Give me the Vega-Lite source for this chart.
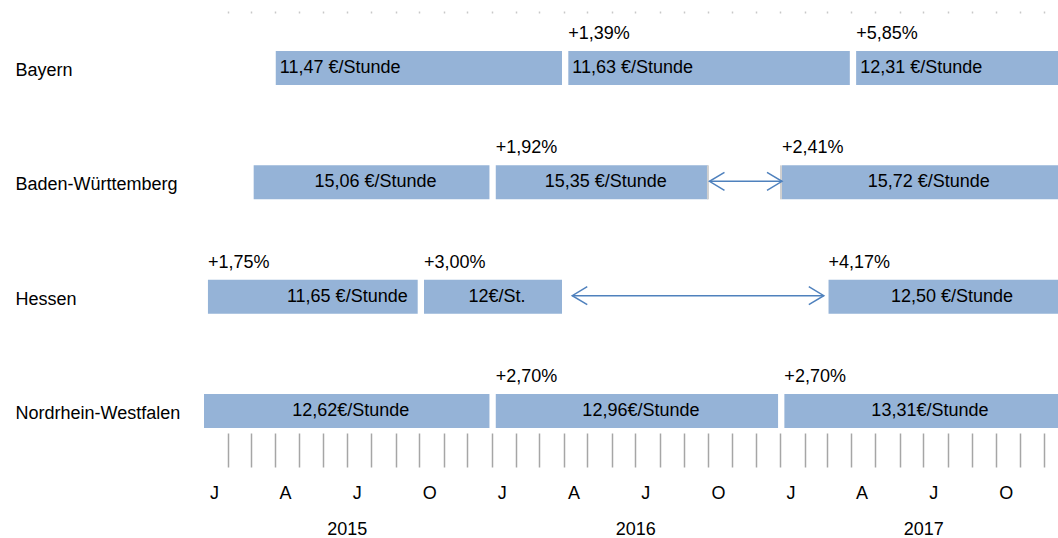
{
  "$schema": "https://vega.github.io/schema/vega-lite/v6.json",
  "autosize": {"type": "none"},
  "width": 854,
  "height": 418,
  "padding": {"left": 204, "top": 13, "right": 0, "bottom": 107},
  "background": "white",
  "config": {
    "view": {"stroke": null},
    "font": "Liberation Sans",
    "text": {"font": "Liberation Sans", "fontSize": 18, "color": "#000000"},
    "axis": {"labelFont": "Liberation Sans", "labelFontSize": 18, "labelColor": "#000000", "grid": false, "domain": false}
  },
  "datasets": {
    "bars": [
      {"state": "Bayern", "start": "2015-04-02", "end": "2016-03-30", "label": "11,47 €/Stunde", "pct": null},
      {"state": "Bayern", "start": "2016-04-07", "end": "2017-03-30", "label": "11,63 €/Stunde", "pct": "+1,39%"},
      {"state": "Bayern", "start": "2017-04-07", "end": "2017-12-31", "label": "12,31 €/Stunde", "pct": "+5,85%"},
      {"state": "Baden-Württemberg", "start": "2015-03-05", "end": "2015-12-29", "label": "15,06 €/Stunde", "pct": null},
      {"state": "Baden-Württemberg", "start": "2016-01-06", "end": "2016-10-01", "label": "15,35 €/Stunde", "pct": "+1,92%"},
      {"state": "Baden-Württemberg", "start": "2017-01-03", "end": "2017-12-31", "label": "15,72 €/Stunde", "pct": "+2,41%"},
      {"state": "Hessen", "start": "2015-01-06", "end": "2015-09-29", "label": "11,65 €/Stunde", "pct": "+1,75%"},
      {"state": "Hessen", "start": "2015-10-07", "end": "2016-03-30", "label": "12€/St.", "pct": "+3,00%"},
      {"state": "Hessen", "start": "2017-03-03", "end": "2017-12-31", "label": "12,50 €/Stunde", "pct": "+4,17%"},
      {"state": "Nordrhein-Westfalen", "start": "2015-01-01", "end": "2015-12-29", "label": "12,62€/Stunde", "pct": null},
      {"state": "Nordrhein-Westfalen", "start": "2016-01-06", "end": "2016-12-29", "label": "12,96€/Stunde", "pct": "+2,70%"},
      {"state": "Nordrhein-Westfalen", "start": "2017-01-06", "end": "2017-12-31", "label": "13,31€/Stunde", "pct": "+2,70%"}
    ],
    "arrows": [
      {"state": "Baden-Württemberg", "start": "2016-10-03", "end": "2017-01-03"},
      {"state": "Hessen", "start": "2016-04-12", "end": "2017-02-25"}
    ]
  },
  "encoding": {
    "y": {
      "field": "state",
      "type": "nominal",
      "sort": null,
      "scale": {
        "domain": ["Bayern", "Baden-Württemberg", "Hessen", "Nordrhein-Westfalen"],
        "paddingInner": 0.7025,
        "paddingOuter": 0.179,
        "align": 0.928
      },
      "axis": {
        "title": null,
        "labelAlign": "left",
        "labelBaseline": "middle",
        "labelPadding": 189,
        "ticks": false,
        "tickSize": 0,
        "labelOffset": 3,
        "labelLimit": 0,
        "domain": false
      }
    }
  },
  "layer": [
    {
      "data": {"name": "bars"},
      "mark": {"type": "bar", "color": "#95b3d7", "clip": true},
      "encoding": {
        "x": {
          "field": "start",
          "type": "temporal",
          "scale": {"domain": [{"year": 2015, "month": 1, "date": 1, "utc": true}, {"year": 2017, "month": 12, "date": 19, "utc": true}], "nice": false},
          "axis": {
            "orient": "bottom",
            "title": null,
            "labels": false,
            "ticks": true,
            "tickSize": 34,
            "tickWidth": 1.5,
            "tickColor": "#a6a6a6",
            "offset": 2,
            "domain": false,
            "grid": false,
            "values": [
              {"year": 2015, "month": 2, "date": 1, "utc": true}, {"year": 2015, "month": 3, "date": 1, "utc": true}, {"year": 2015, "month": 4, "date": 1, "utc": true}, {"year": 2015, "month": 5, "date": 1, "utc": true}, {"year": 2015, "month": 6, "date": 1, "utc": true}, {"year": 2015, "month": 7, "date": 1, "utc": true}, {"year": 2015, "month": 8, "date": 1, "utc": true}, {"year": 2015, "month": 9, "date": 1, "utc": true}, {"year": 2015, "month": 10, "date": 1, "utc": true}, {"year": 2015, "month": 11, "date": 1, "utc": true}, {"year": 2015, "month": 12, "date": 1, "utc": true},
              {"year": 2016, "month": 1, "date": 1, "utc": true}, {"year": 2016, "month": 2, "date": 1, "utc": true}, {"year": 2016, "month": 3, "date": 1, "utc": true}, {"year": 2016, "month": 4, "date": 1, "utc": true}, {"year": 2016, "month": 5, "date": 1, "utc": true}, {"year": 2016, "month": 6, "date": 1, "utc": true}, {"year": 2016, "month": 7, "date": 1, "utc": true}, {"year": 2016, "month": 8, "date": 1, "utc": true}, {"year": 2016, "month": 9, "date": 1, "utc": true}, {"year": 2016, "month": 10, "date": 1, "utc": true}, {"year": 2016, "month": 11, "date": 1, "utc": true}, {"year": 2016, "month": 12, "date": 1, "utc": true},
              {"year": 2017, "month": 1, "date": 1, "utc": true}, {"year": 2017, "month": 2, "date": 1, "utc": true}, {"year": 2017, "month": 3, "date": 1, "utc": true}, {"year": 2017, "month": 4, "date": 1, "utc": true}, {"year": 2017, "month": 5, "date": 1, "utc": true}, {"year": 2017, "month": 6, "date": 1, "utc": true}, {"year": 2017, "month": 7, "date": 1, "utc": true}, {"year": 2017, "month": 8, "date": 1, "utc": true}, {"year": 2017, "month": 9, "date": 1, "utc": true}, {"year": 2017, "month": 10, "date": 1, "utc": true}, {"year": 2017, "month": 11, "date": 1, "utc": true}, {"year": 2017, "month": 12, "date": 1, "utc": true}
            ]
          }
        },
        "x2": {"field": "end"}
      }
    },
    {
      "data": {"name": "arrows"},
      "transform": [{"filter": "datum.state === 'Baden-Württemberg'"}],
      "mark": {"type": "tick", "color": "#d0d0d0", "thickness": 2, "size": 34, "opacity": 1, "xOffset": -1.5},
      "encoding": {
        "x": {"field": "start", "type": "temporal", "scale": {"domain": [{"year": 2015, "month": 1, "date": 1, "utc": true}, {"year": 2017, "month": 12, "date": 19, "utc": true}], "nice": false}, "axis": null}
      }
    },
    {
      "data": {"name": "arrows"},
      "transform": [{"filter": "datum.state === 'Baden-Württemberg'"}],
      "mark": {"type": "tick", "color": "#d0d0d0", "thickness": 2, "size": 34, "opacity": 1, "xOffset": -1},
      "encoding": {
        "x": {"field": "end", "type": "temporal", "scale": {"domain": [{"year": 2015, "month": 1, "date": 1, "utc": true}, {"year": 2017, "month": 12, "date": 19, "utc": true}], "nice": false}, "axis": null}
      }
    },
    {
      "data": {"name": "arrows"},
      "mark": {"type": "rule", "color": "#4f81bd", "strokeWidth": 1.5, "yOffset": -1},
      "encoding": {
        "x": {
          "field": "start",
          "type": "temporal",
          "scale": {"domain": [{"year": 2015, "month": 1, "date": 1, "utc": true}, {"year": 2017, "month": 12, "date": 19, "utc": true}], "nice": false},
          "axis": {
            "orient": "top",
            "title": null,
            "labels": false,
            "ticks": true,
            "tickSize": 2,
            "tickWidth": 1.5,
            "tickColor": "#c8c8c8",
            "domain": false,
            "grid": false,
            "values": [
              {"year": 2015, "month": 2, "date": 1, "utc": true}, {"year": 2015, "month": 3, "date": 1, "utc": true}, {"year": 2015, "month": 4, "date": 1, "utc": true}, {"year": 2015, "month": 5, "date": 1, "utc": true}, {"year": 2015, "month": 6, "date": 1, "utc": true}, {"year": 2015, "month": 7, "date": 1, "utc": true}, {"year": 2015, "month": 8, "date": 1, "utc": true}, {"year": 2015, "month": 9, "date": 1, "utc": true}, {"year": 2015, "month": 10, "date": 1, "utc": true}, {"year": 2015, "month": 11, "date": 1, "utc": true}, {"year": 2015, "month": 12, "date": 1, "utc": true},
              {"year": 2016, "month": 1, "date": 1, "utc": true}, {"year": 2016, "month": 2, "date": 1, "utc": true}, {"year": 2016, "month": 3, "date": 1, "utc": true}, {"year": 2016, "month": 4, "date": 1, "utc": true}, {"year": 2016, "month": 5, "date": 1, "utc": true}, {"year": 2016, "month": 6, "date": 1, "utc": true}, {"year": 2016, "month": 7, "date": 1, "utc": true}, {"year": 2016, "month": 8, "date": 1, "utc": true}, {"year": 2016, "month": 9, "date": 1, "utc": true}, {"year": 2016, "month": 10, "date": 1, "utc": true}, {"year": 2016, "month": 11, "date": 1, "utc": true}, {"year": 2016, "month": 12, "date": 1, "utc": true},
              {"year": 2017, "month": 1, "date": 1, "utc": true}, {"year": 2017, "month": 2, "date": 1, "utc": true}, {"year": 2017, "month": 3, "date": 1, "utc": true}, {"year": 2017, "month": 4, "date": 1, "utc": true}, {"year": 2017, "month": 5, "date": 1, "utc": true}, {"year": 2017, "month": 6, "date": 1, "utc": true}, {"year": 2017, "month": 7, "date": 1, "utc": true}, {"year": 2017, "month": 8, "date": 1, "utc": true}, {"year": 2017, "month": 9, "date": 1, "utc": true}, {"year": 2017, "month": 10, "date": 1, "utc": true}, {"year": 2017, "month": 11, "date": 1, "utc": true}, {"year": 2017, "month": 12, "date": 1, "utc": true}
            ]
          }
        },
        "x2": {"field": "end"}
      }
    },
    {
      "data": {"name": "arrows"},
      "mark": {"type": "point", "shape": "M 1 -0.6 L 0 0 L 1 0.6", "filled": false, "color": "#4f81bd", "strokeWidth": 1.5, "size": 900, "opacity": 1, "yOffset": -1},
      "encoding": {
        "x": {"field": "start", "type": "temporal", "scale": {"domain": [{"year": 2015, "month": 1, "date": 1, "utc": true}, {"year": 2017, "month": 12, "date": 19, "utc": true}], "nice": false}, "axis": null}
      }
    },
    {
      "data": {"name": "arrows"},
      "mark": {"type": "point", "shape": "M -1 -0.6 L 0 0 L -1 0.6", "filled": false, "color": "#4f81bd", "strokeWidth": 1.5, "size": 900, "opacity": 1, "yOffset": -1},
      "encoding": {
        "x": {"field": "end", "type": "temporal", "scale": {"domain": [{"year": 2015, "month": 1, "date": 1, "utc": true}, {"year": 2017, "month": 12, "date": 19, "utc": true}], "nice": false}, "axis": null}
      }
    },
    {
      "data": {"name": "bars"},
      "transform": [{"filter": "datum.pct != null"}],
      "mark": {"type": "text", "align": "left", "baseline": "middle", "yOffset": -34},
      "encoding": {
        "x": {
          "field": "start",
          "type": "temporal",
          "scale": {"domain": [{"year": 2015, "month": 1, "date": 1, "utc": true}, {"year": 2017, "month": 12, "date": 19, "utc": true}], "nice": false},
          "axis": {
            "orient": "bottom",
            "title": null,
            "ticks": false,
            "tickSize": 0,
            "labelPadding": 53,
            "labelOffset": 10,
            "labelFlush": false,
            "labelOverlap": false,
            "labelAlign": "center",
            "labelBaseline": "top",
            "domain": false,
            "grid": false,
            "labelExpr": "slice(utcFormat(datum.value, '%b'), 0, 1)",
            "values": [
              {"year": 2015, "month": 1, "date": 1, "utc": true}, {"year": 2015, "month": 4, "date": 1, "utc": true}, {"year": 2015, "month": 7, "date": 1, "utc": true}, {"year": 2015, "month": 10, "date": 1, "utc": true},
              {"year": 2016, "month": 1, "date": 1, "utc": true}, {"year": 2016, "month": 4, "date": 1, "utc": true}, {"year": 2016, "month": 7, "date": 1, "utc": true}, {"year": 2016, "month": 10, "date": 1, "utc": true},
              {"year": 2017, "month": 1, "date": 1, "utc": true}, {"year": 2017, "month": 4, "date": 1, "utc": true}, {"year": 2017, "month": 7, "date": 1, "utc": true}, {"year": 2017, "month": 10, "date": 1, "utc": true}
            ]
          }
        },
        "text": {"field": "pct"}
      }
    },
    {
      "data": {"name": "bars"},
      "transform": [{"filter": "datum.state === 'Bayern'"}],
      "mark": {"type": "text", "align": "left", "baseline": "middle", "dx": 4},
      "encoding": {
        "x": {"field": "start", "type": "temporal", "scale": {"domain": [{"year": 2015, "month": 1, "date": 1, "utc": true}, {"year": 2017, "month": 12, "date": 19, "utc": true}], "nice": false}, "axis": null},
        "text": {"field": "label"}
      }
    },
    {
      "data": {"name": "bars"},
      "transform": [{"filter": "datum.state === 'Hessen' && datum.label === '11,65 €/Stunde'"}],
      "mark": {"type": "text", "align": "right", "baseline": "middle", "dx": -10},
      "encoding": {
        "x": {"field": "end", "type": "temporal", "scale": {"domain": [{"year": 2015, "month": 1, "date": 1, "utc": true}, {"year": 2017, "month": 12, "date": 19, "utc": true}], "nice": false}, "axis": null},
        "text": {"field": "label"}
      }
    },
    {
      "data": {"name": "bars", "format": {"parse": {"start": "date", "end": "date"}}},
      "transform": [
        {"filter": "datum.state !== 'Bayern' && datum.label !== '11,65 €/Stunde'"},
        {"fold": ["start", "end"], "as": ["edge", "date"]},
        {"aggregate": [{"op": "mean", "field": "date", "as": "mid"}], "groupby": ["state", "label"]}
      ],
      "mark": {"type": "text", "align": "center", "baseline": "middle", "dx": 4},
      "encoding": {
        "x": {
          "field": "mid",
          "type": "temporal",
          "scale": {"domain": [{"year": 2015, "month": 1, "date": 1, "utc": true}, {"year": 2017, "month": 12, "date": 19, "utc": true}], "nice": false},
          "axis": {
            "orient": "bottom",
            "title": null,
            "ticks": false,
            "tickSize": 0,
            "labelPadding": 89,
            "labelFlush": false,
            "labelOverlap": false,
            "labelAlign": "center",
            "labelBaseline": "top",
            "domain": false,
            "grid": false,
            "labelExpr": "utcFormat(datum.value, '%Y')",
            "values": [
              {"year": 2015, "month": 7, "date": 1, "utc": true}, {"year": 2016, "month": 7, "date": 1, "utc": true}, {"year": 2017, "month": 7, "date": 1, "utc": true}
            ]
          }
        },
        "text": {"field": "label"}
      }
    }
  ],
  "resolve": {"axis": {"x": "independent"}}
}
